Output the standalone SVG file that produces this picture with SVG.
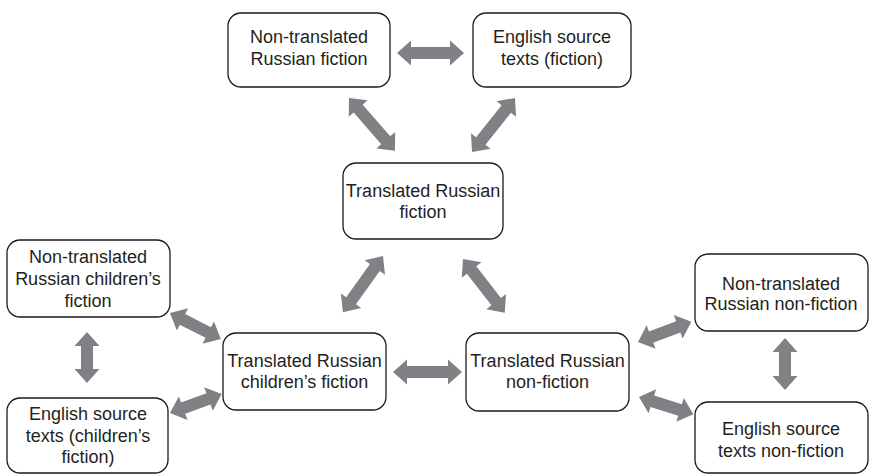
<svg xmlns="http://www.w3.org/2000/svg" width="869" height="474" viewBox="0 0 869 474">
<style>
.box{fill:#fff;stroke:#1a1a1a;stroke-width:1.3}
.t{font-family:"Liberation Sans",Arial,sans-serif;font-size:18px;fill:#231f20;text-anchor:middle}
.arr{fill:#808184;stroke:none}
</style>
<rect width="869" height="474" fill="#fff"/>
<g id="connectors">
<path class="arr" transform="translate(397,53)" d="M0,0 L14,-12.5 L14,-6 L53,-6 L53,-12.5 L67,0 L53,12.5 L53,6 L14,6 L14,12.5Z"/>
<path class="arr" transform="translate(349,98) rotate(49)" d="M0,0 L14,-12.5 L14,-6 L56,-6 L56,-12.5 L70,0 L56,12.5 L56,6 L14,6 L14,12.5Z"/>
<path class="arr" transform="translate(515,98) rotate(128.5)" d="M0,0 L14,-12.5 L14,-6 L55,-6 L55,-12.5 L69,0 L55,12.5 L55,6 L14,6 L14,12.5Z"/>
<path class="arr" transform="translate(383,256) rotate(125.5)" d="M0,0 L14,-12.5 L14,-6 L55,-6 L55,-12.5 L69,0 L55,12.5 L55,6 L14,6 L14,12.5Z"/>
<path class="arr" transform="translate(463,259) rotate(52.1)" d="M0,0 L14,-12.5 L14,-6 L54,-6 L54,-12.5 L68,0 L54,12.5 L54,6 L14,6 L14,12.5Z"/>
<path class="arr" transform="translate(170,313) rotate(27)" d="M0,0 L14,-12.5 L14,-6 L43,-6 L43,-12.5 L57,0 L43,12.5 L43,6 L14,6 L14,12.5Z"/>
<path class="arr" transform="translate(170,413) rotate(-20.1)" d="M0,0 L14,-12.5 L14,-6 L41,-6 L41,-12.5 L55,0 L41,12.5 L41,6 L14,6 L14,12.5Z"/>
<path class="arr" transform="translate(87,332) rotate(90)" d="M0,0 L14,-12.5 L14,-6 L37,-6 L37,-12.5 L51,0 L37,12.5 L37,6 L14,6 L14,12.5Z"/>
<path class="arr" transform="translate(393,372)" d="M0,0 L14,-12.5 L14,-6 L55,-6 L55,-12.5 L69,0 L55,12.5 L55,6 L14,6 L14,12.5Z"/>
<path class="arr" transform="translate(638,342) rotate(-20.7)" d="M0,0 L14,-12.5 L14,-6 L43,-6 L43,-12.5 L57,0 L43,12.5 L43,6 L14,6 L14,12.5Z"/>
<path class="arr" transform="translate(639,397) rotate(17.5)" d="M0,0 L14,-12.5 L14,-6 L43,-6 L43,-12.5 L57,0 L43,12.5 L43,6 L14,6 L14,12.5Z"/>
<path class="arr" transform="translate(785,338) rotate(90)" d="M0,0 L14,-12.5 L14,-6 L38,-6 L38,-12.5 L52,0 L38,12.5 L38,6 L14,6 L14,12.5Z"/>
</g>
<g id="nontranslated-fiction">
<rect class="box" x="228" y="13" width="162" height="74" rx="13"/>
<text class="t" x="309" y="43">Non-translated</text>
<text class="t" x="309" y="65">Russian fiction</text>
</g>
<g id="english-fiction">
<rect class="box" x="473" y="13" width="158" height="74" rx="13"/>
<text class="t" x="552" y="43">English source</text>
<text class="t" x="552" y="65">texts (fiction)</text>
</g>
<g id="translated-fiction">
<rect class="box" x="343" y="163" width="160" height="76" rx="13"/>
<text class="t" x="423" y="197">Translated Russian</text>
<text class="t" x="423" y="218">fiction</text>
</g>
<g id="nontranslated-children">
<rect class="box" x="7" y="240" width="163" height="77" rx="13"/>
<text class="t" x="88" y="263">Non-translated</text>
<text class="t" x="88" y="285">Russian children’s</text>
<text class="t" x="88" y="307">fiction</text>
</g>
<g id="english-children">
<rect class="box" x="7" y="398" width="161" height="75" rx="13"/>
<text class="t" x="88" y="420">English source</text>
<text class="t" x="88" y="442">texts (children’s</text>
<text class="t" x="88" y="463">fiction)</text>
</g>
<g id="translated-children">
<rect class="box" x="223" y="333" width="163" height="77" rx="13"/>
<text class="t" x="304.5" y="367">Translated Russian</text>
<text class="t" x="304.5" y="388">children’s fiction</text>
</g>
<g id="translated-nonfiction">
<rect class="box" x="466" y="333" width="163" height="78" rx="13"/>
<text class="t" x="547.5" y="367">Translated Russian</text>
<text class="t" x="547.5" y="388">non-fiction</text>
</g>
<g id="nontranslated-nonfiction">
<rect class="box" x="695" y="254" width="173" height="77" rx="13"/>
<text class="t" x="781" y="290">Non-translated</text>
<text class="t" x="781" y="310">Russian non-fiction</text>
</g>
<g id="english-nonfiction">
<rect class="box" x="695" y="402" width="173" height="71" rx="13"/>
<text class="t" x="781" y="435">English source</text>
<text class="t" x="781" y="457">texts non-fiction</text>
</g>
</svg>
